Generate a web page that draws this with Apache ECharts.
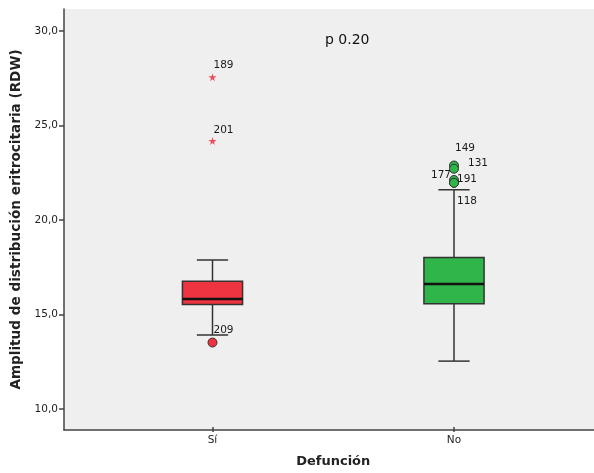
<!DOCTYPE html>
<html><head><meta charset="utf-8">
<script src="https://cdn.jsdelivr.net/npm/echarts@6/dist/echarts.min.js"></script>
<style>html,body{margin:0;padding:0;background:#fff}#c{width:594px;height:473px}</style>
</head><body><div id="c"></div>
<script>
// ---- data ----
const categories = ['Sí', 'No'];
// [low whisker, Q1, median, Q3, high whisker]
const boxSi = [13.79, 15.41, 15.71, 16.65, 17.79];
const boxNo = [12.40, 15.45, 16.51, 17.92, 21.53];
// extreme outliers (stars): [category index, value, case id]
const extremes = [[0, 27.53, '189'], [0, 24.13, '201']];
// outliers (circles): [category index, value, case id]
const outliers = [[0, 13.39, '209'], [1, 22.82, '149'], [1, 22.65, '131'], [1, 22.05, '177'], [1, 21.90, '191'], [1, 21.90, '118']];
const yTicks = [10, 15, 20, 25, 30];
const annotation = 'p 0.20';

// ---- style ----
const fills = ['#ee3440', '#30b54a'];
const labelOffsets = {'189':[1,-12],'201':[1,-11],'209':[1,-12],'149':[1,-17],'131':[14,-5],'177':[-23,-5],'191':[3,-4],'118':[3,18]};
const yMin = 8.89, yMax = 31.16;
const starPath = 'path://M50,0 L61,35 L98,35 L68,57 L79,91 L50,70 L21,91 L32,57 L2,35 L39,35 Z';

const chart = echarts.init(document.getElementById('c'));
const boxData = [[0].concat(boxSi), [1].concat(boxNo)];
function pointData(arr, color){
  return arr.map(d => ({value:[d[0], d[1]], name:d[2],
    itemStyle:{color: color || fills[d[0]], opacity:1},
    label:{offset: labelOffsets[d[2]] || [2,-10]}}));
}
const lbl = {show:true, position:'inside', align:'left', verticalAlign:'middle',
  formatter: p => p.name, color:'#1a1a1a', fontSize:10.5, fontFamily:'DejaVu Sans'};

chart.setOption({
  animation:false,
  backgroundColor:'#fff',
  grid:[
    {left:64, right:0, top:9, bottom:43, show:true, backgroundColor:'#efefef', borderWidth:0},
    {left:91.75, right:19.25, top:9, bottom:43}
  ],
  xAxis:[
    {type:'value', gridIndex:0, min:0, max:1, axisLine:{show:true, onZero:false, lineStyle:{color:'#444', width:1.5}},
     axisTick:{show:false}, axisLabel:{show:false}, splitLine:{show:false}},
    {type:'category', gridIndex:1, data:categories, axisLine:{show:false},
     axisTick:{show:true, alignWithLabel:true, length:5, lineStyle:{color:'#444', width:1.5}},
     axisLabel:{color:'#222', fontSize:10.5, fontFamily:'DejaVu Sans', margin:8},
     name:'Defunción', nameLocation:'middle', nameGap:28,
     nameTextStyle:{fontWeight:'bold', fontSize:13, color:'#222', fontFamily:'DejaVu Sans'}}
  ],
  yAxis:[
    {type:'value', gridIndex:0, min:yMin, max:yMax,
     axisLine:{show:true, lineStyle:{color:'#444', width:1.5}},
     axisTick:{show:true, length:5, customValues:yTicks, lineStyle:{color:'#444', width:1.5}},
     axisLabel:{customValues:yTicks, formatter:v => v.toFixed(1).replace('.', ','), color:'#222', fontSize:10.5, fontFamily:'DejaVu Sans', margin:6},
     splitLine:{show:false},
     name:'Amplitud de distribución eritrocitaria (RDW)', nameLocation:'middle', nameGap:40,
     nameTextStyle:{fontWeight:'bold', fontSize:13.6, color:'#222', fontFamily:'DejaVu Sans'}},
    {type:'value', gridIndex:1, min:yMin, max:yMax, show:false, splitLine:{show:false}}
  ],
  graphic:[{type:'text', left:325, top:33, style:{text:annotation, fontSize:14, fill:'#111', fontFamily:'DejaVu Sans'}}],
  series:[
    {type:'custom', xAxisIndex:1, yAxisIndex:1, data:boxData, z:3,
     renderItem:function(params, api){
       const i = api.value(0);
       const low=api.coord([i, api.value(1)]), q1=api.coord([i, api.value(2)]), med=api.coord([i, api.value(3)]),
             q3=api.coord([i, api.value(4)]), high=api.coord([i, api.value(5)]);
       const band = api.size([1,0])[0];
       const bw = band*0.249, cw = bw*0.52;
       const cx = low[0];
       const ls = {stroke:'#333', lineWidth:1.5};
       return {type:'group', children:[
         {type:'line', shape:{x1:cx, y1:high[1], x2:cx, y2:q3[1]}, style:ls},
         {type:'line', shape:{x1:cx, y1:q1[1], x2:cx, y2:low[1]}, style:ls},
         {type:'line', shape:{x1:cx-cw/2, y1:high[1], x2:cx+cw/2, y2:high[1]}, style:ls},
         {type:'line', shape:{x1:cx-cw/2, y1:low[1], x2:cx+cw/2, y2:low[1]}, style:ls},
         {type:'rect', shape:{x:cx-bw/2, y:q3[1], width:bw, height:q1[1]-q3[1]}, style:{fill:fills[i], stroke:'#333', lineWidth:1.5}},
         {type:'line', shape:{x1:cx-bw/2, y1:med[1], x2:cx+bw/2, y2:med[1]}, style:{stroke:'#111', lineWidth:2.5}}
       ]};
     }},
    {type:'scatter', xAxisIndex:1, yAxisIndex:1, symbol:starPath, symbolSize:8, z:4,
     data:pointData(extremes, '#f04c5c'), label:lbl},
    {type:'scatter', xAxisIndex:1, yAxisIndex:1, symbol:'circle', symbolSize:9, z:4,
     itemStyle:{borderColor:'#333', borderWidth:1, opacity:1},
     data:pointData(outliers), label:lbl}
  ]
});
</script></body></html>
